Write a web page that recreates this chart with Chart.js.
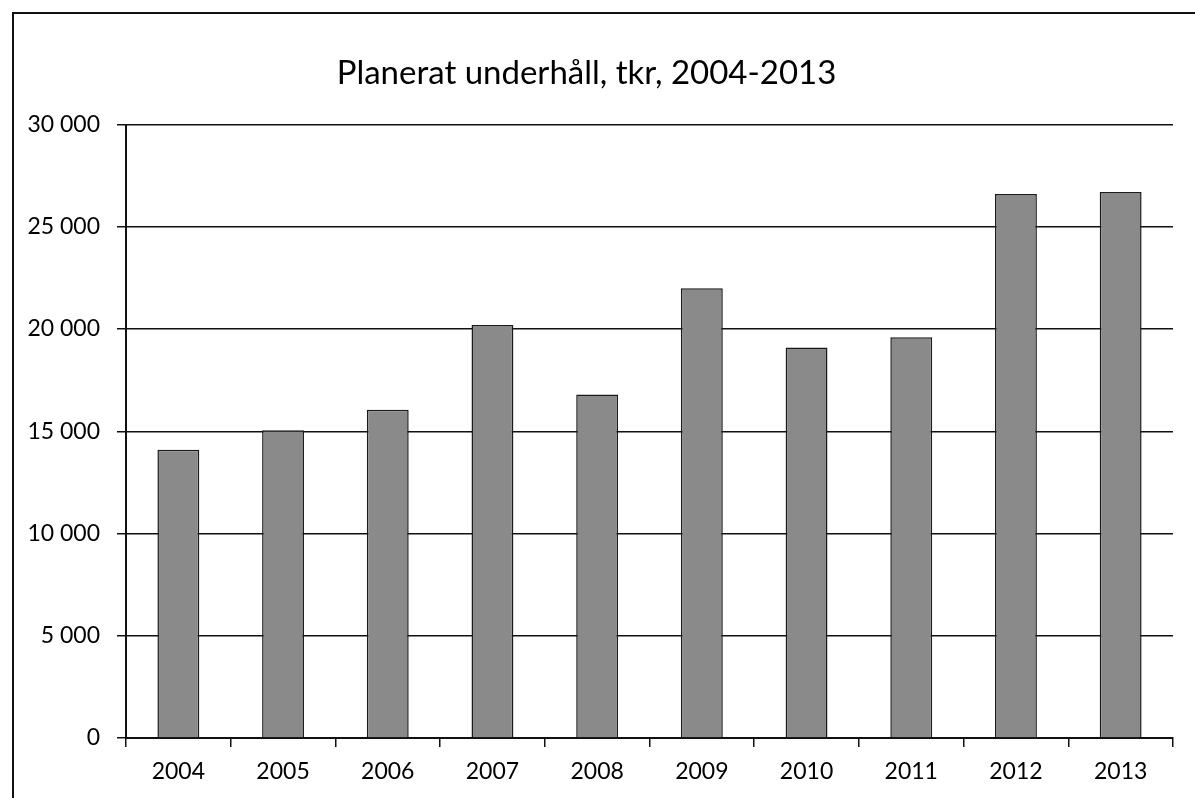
<!DOCTYPE html>
<html>
<head>
<meta charset="utf-8">
<script src="https://cdn.jsdelivr.net/npm/chart.js@4/dist/chart.umd.min.js"></script>
<style>
  html, body { margin: 0; padding: 0; background: #fff; }
  #wrap { width: 1195px; height: 798px; position: relative; }
</style>
</head>
<body>
<div id="wrap"><canvas id="barChart"></canvas></div>
<script>
const years = ['2004', '2005', '2006', '2007', '2008', '2009', '2010', '2011', '2012', '2013'];
const underhall = [14100, 15050, 16050, 20200, 16800, 22000, 19100, 19600, 26600, 26700];
const yTicks = [0, 5000, 10000, 15000, 20000, 25000, 30000];

// outer frame like the scanned page (left and top edge only)
const framePlugin = {
    id: 'frame',
    beforeDraw(chart) {
        const c = chart.ctx;
        c.save();
        c.strokeStyle = '#111';
        c.lineWidth = 2;
        c.beginPath();
        c.moveTo(13, chart.height);
        c.lineTo(13, 13);
        c.lineTo(chart.width, 13);
        c.stroke();
        c.restore();
    }
};

document.addEventListener('DOMContentLoaded', () => {
    const ctx = document.getElementById('barChart').getContext('2d');

    new Chart(ctx, {
        type: 'bar',
        data: {
            labels: years,
            datasets: [{
                data: underhall,
                backgroundColor: '#8a8a8a',
                borderColor: '#1a1a1a',
                borderWidth: 1.5,
                barPercentage: 0.4,
                categoryPercentage: 1
            }]
        },
        options: {
            responsive: true,
            maintainAspectRatio: false,
            animation: false,
            layout: { padding: { left: 0, right: 22, bottom: 0 } },
            plugins: {
                legend: { display: false },
                tooltip: { enabled: false },
                title: {
                    display: true,
                    text: 'Planerat underhåll, tkr, 2004-2013',
                    color: '#000',
                    font: { family: 'Lato', size: 33, weight: 'normal' },
                    padding: { top: 54, bottom: 31 }
                }
            },
            scales: {
                x: {
                    grid: {
                        drawOnChartArea: false,
                        drawTicks: true,
                        tickLength: 9,
                        color: '#111',
                        lineWidth: 1.5,
                        offset: true
                    },
                    border: { display: true, color: '#111', width: 2 },
                    ticks: {
                        color: '#000',
                        padding: 11,
                        font: { family: 'Lato', size: 23 }
                    },
                    afterFit(scale) { scale.height = 60; }
                },
                y: {
                    min: 0,
                    max: 30000,
                    afterBuildTicks(scale) {
                        scale.ticks = yTicks.map(v => ({ value: v }));
                    },
                    grid: {
                        color: '#111',
                        lineWidth: 1.5,
                        tickLength: 9
                    },
                    border: { display: true, color: '#111', width: 2 },
                    ticks: {
                        color: '#000',
                        padding: 17,
                        font: { family: 'Lato', size: 23 },
                        callback: v => v === 0 ? '0' : String(v).replace(/\B(?=(\d{3})+(?!\d))/g, ' ')
                    },
                    afterFit(scale) { scale.width = 126; }
                }
            }
        },
        plugins: [framePlugin]
    });
});
</script>
</body>
</html>
